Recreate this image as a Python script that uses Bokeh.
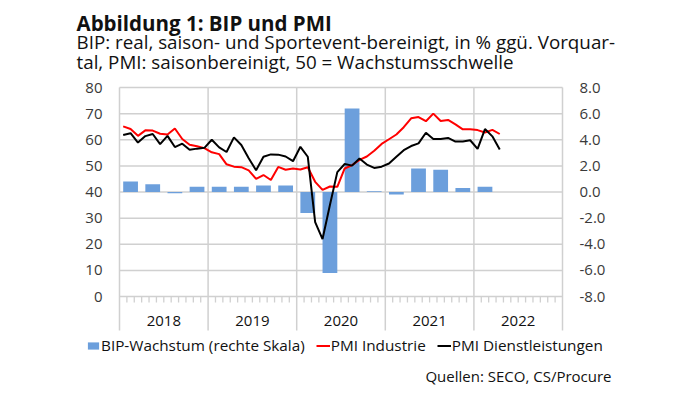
from bokeh.plotting import figure
from bokeh.models import Range1d, Legend, LegendItem
from bokeh.core.properties import value
from bokeh.embed import file_html
from bokeh.resources import INLINE

# ---------------- data ----------------
years = ["2018", "2019", "2020", "2021", "2022"]
quarters = ["2018Q1", "2018Q2", "2018Q3", "2018Q4",
            "2019Q1", "2019Q2", "2019Q3", "2019Q4",
            "2020Q1", "2020Q2", "2020Q3", "2020Q4",
            "2021Q1", "2021Q2", "2021Q3", "2021Q4",
            "2022Q1"]
bip_growth = [0.8, 0.6, -0.1, 0.4,
              0.4, 0.4, 0.5, 0.5,
              -1.6, -6.2, 6.4, 0.05,
              -0.2, 1.8, 1.7, 0.3,
              0.4]
# monthly, Jan 2018 .. Apr 2022
pmi_industrie = [65.1, 64.1, 61.5, 63.6, 63.5, 62.3, 62.0, 64.3, 60.3, 58.1, 57.5, 56.8,
                 55.2, 54.5, 50.6, 49.7, 49.5, 48.3, 45.0, 46.5, 44.6, 49.6, 48.5, 49.0,
                 48.6, 49.5, 43.9, 40.8, 42.1, 42.0, 49.0, 50.3, 52.3, 53.6, 55.8, 58.4,
                 60.2, 62.0, 64.8, 68.2, 68.7, 67.1, 70.0, 67.2, 67.6, 65.9, 64.0, 64.0,
                 63.7, 62.8, 63.8, 62.2]
pmi_dienst = [61.8, 62.5, 58.9, 61.4, 62.2, 58.3, 61.5, 57.2, 58.5, 56.2, 56.6, 56.9,
              60.0, 57.1, 55.3, 60.9, 58.0, 52.9, 48.3, 53.5, 54.4, 54.3, 53.6, 51.8,
              57.3, 53.5, 28.5, 22.0, 35.0, 47.6, 50.7, 50.1, 52.8, 50.5, 49.2, 49.7,
              50.9, 53.5, 56.0, 57.6, 58.6, 62.7, 60.3, 60.3, 60.7, 59.3, 59.3, 59.8,
              56.5, 64.1, 61.3, 56.3]
left_ticks = [0, 10, 20, 30, 40, 50, 60, 70, 80]
right_ticks = [-8, -6, -4, -2, 0, 2, 4, 6, 8]
left_labels = [str(v) for v in left_ticks]
right_labels = [f"{v:.1f}" for v in right_ticks]

title = "Abbildung 1: BIP und PMI"
subtitle_1 = "BIP: real, saison- und Sportevent-bereinigt, in % ggü. Vorquar-"
subtitle_2 = "tal, PMI: saisonbereinigt, 50 = Wachstumsschwelle"
source = "Quellen: SECO, CS/Procure"

# x positions in months since Jan 2018
n_months = 12 * len(years)
month_x = [i + 0.5 for i in range(len(pmi_industrie))]
quarter_x = [3 * q + 1.5 for q in range(len(quarters))]
year_bounds = [12 * k for k in range(len(years) + 1)]
year_centers = [12 * k + 6 for k in range(len(years))]
month_bounds = [m for m in range(1, n_months) if m % 12 != 0]

# ---------------- layout (pixel geometry of the page) ----------------
FONT = "Open Sans"
GRID = "#d0d0d0"
TXT = "#111111"
TICK_TXT = "#3a3a3a"
BLUE = "#6C9FDC"
W, H = 679, 387
FR_L, FR_R = 119, 562      # plot area left/right (px)
TOP_PX, ZERO_PX = 87, 296  # pixel rows of the values 80 and 0
PPU = (ZERO_PX - TOP_PX) / 80.0


def px_x(px):
    return (px - FR_L) * n_months / (FR_R - FR_L)


def px_y(py):
    return (ZERO_PX - py) / PPU


def to_right(v):
    return (v - 40) / 5.0


p = figure(width=W, height=H, x_range=Range1d(px_x(0), px_x(W)),
           y_range=Range1d(px_y(H), px_y(0)),
           output_backend="svg", toolbar_location=None,
           x_axis_location=None, y_axis_location=None, min_border=0)
p.extra_y_ranges = {"right": Range1d(to_right(px_y(H)), to_right(px_y(0)))}
p.outline_line_color = None
p.grid.visible = False
p.background_fill_color = "white"
p.border_fill_color = "white"

# gridlines
p.segment(x0=[0] * len(left_ticks), y0=left_ticks, x1=[n_months] * len(left_ticks),
          y1=left_ticks, line_color=GRID, line_width=1.5)
sep_bottom = px_y(330)
p.segment(x0=year_bounds, y0=[80] * len(year_bounds), x1=year_bounds,
          y1=[sep_bottom] * len(year_bounds), line_color=GRID, line_width=1.5)
# monthly minor ticks
tick_bottom = px_y(ZERO_PX + 6)
p.segment(x0=month_bounds, y0=[0] * len(month_bounds), x1=month_bounds,
          y1=[tick_bottom] * len(month_bounds), line_color=GRID, line_width=1.3)

# data
bars = p.vbar(x=quarter_x, top=bip_growth, bottom=0, width=2.0, y_range_name="right",
              fill_color=BLUE, line_color=None)
red = p.line(month_x, pmi_industrie, line_color="#FF0000", line_width=2)
blk = p.line(month_x, pmi_dienst, line_color="#000000", line_width=2)

# axis tick labels
p.text(x=[px_x(102)] * len(left_ticks), y=left_ticks, text=left_labels,
       text_align="right", text_baseline="middle", text_font=value(FONT),
       text_font_size="15px", text_color=TICK_TXT)
p.text(x=[px_x(579)] * len(right_ticks), y=right_ticks, text=right_labels,
       y_range_name="right", text_align="left", text_baseline="middle",
       text_font=value(FONT), text_font_size="15px", text_color=TICK_TXT)
p.text(x=year_centers, y=[px_y(320)] * len(years), text=years,
       text_align="center", text_baseline="middle", text_font=value(FONT),
       text_font_size="15px", text_color=TXT)

# titles
p.text(x=[px_x(76)], y=[px_y(22)], text=[title], text_align="left",
       text_baseline="alphabetic", text_font=value(FONT), text_font_size="20.5px",
       text_font_style="bold", text_color=TXT)
p.text(x=[px_x(76), px_x(76)], y=[px_y(41), px_y(61.5)], text=[subtitle_1, subtitle_2],
       text_align="left", text_baseline="alphabetic", text_font=value(FONT),
       text_font_size="18.8px", text_color=TXT)

# source
p.text(x=[px_x(611)], y=[px_y(375)], text=[source], text_align="right",
       text_baseline="middle", text_font=value(FONT), text_font_size="15px",
       text_color=TXT)

legend = Legend(items=[LegendItem(label="BIP-Wachstum (rechte Skala)", renderers=[bars]),
                       LegendItem(label="PMI Industrie", renderers=[red]),
                       LegendItem(label="PMI Dienstleistungen", renderers=[blk])],
                orientation="horizontal", location=(86, 32),
                border_line_color=None, background_fill_alpha=0,
                padding=0, margin=0, spacing=11, label_standoff=1,
                glyph_width=14, glyph_height=9, label_height=14,
                label_text_font=FONT, label_text_font_size="15.3px",
                label_text_color=TXT)
p.add_layout(legend)

open("out.html", "w").write(file_html(p, INLINE))
